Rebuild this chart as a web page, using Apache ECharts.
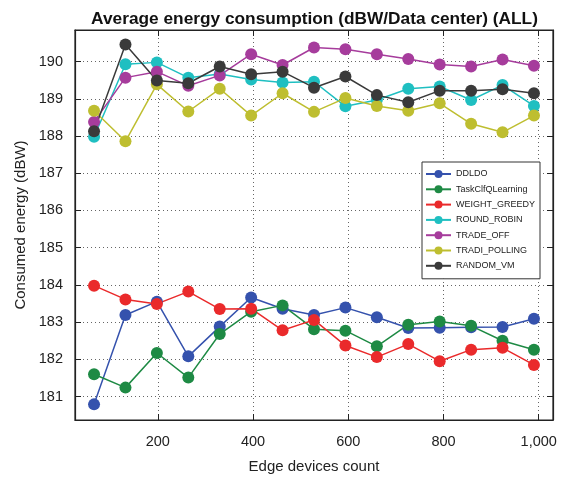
<!DOCTYPE html>
<html>
<head>
<meta charset="utf-8">
<script src="https://cdn.jsdelivr.net/npm/echarts@6/dist/echarts.min.js"></script>
<style>html,body{margin:0;padding:0;background:#fff;}#c{width:573px;height:479px;}</style>
</head>
<body>
<div id="c"></div>
<script>
const edgeCounts = [66,132,198,264,330,396,462,528,594,660,726,792,858,924,990];
const xTicks = [200,400,600,800,1000];
const yTicks = [181,182,183,184,185,186,187,188,189,190];
const seriesNames = ['DDLDO','TaskClfQLearning','WEIGHT_GREEDY','ROUND_ROBIN','TRADE_OFF','TRADI_POLLING','RANDOM_VM'];
const ddldo = [180.79,183.19,183.55,182.08,182.88,183.66,183.36,183.19,183.39,183.13,182.84,182.85,182.86,182.87,183.09];
const taskClfQLearning = [181.60,181.24,182.17,181.51,182.68,183.28,183.45,182.81,182.77,182.35,182.93,183.02,182.90,182.50,182.26];
const weightGreedy = [183.98,183.61,183.49,183.82,183.35,183.36,182.78,183.06,182.37,182.06,182.41,181.95,182.26,182.31,181.85];
const roundRobin = [187.98,189.93,189.98,189.57,189.67,189.52,189.44,189.46,188.80,188.97,189.27,189.33,188.97,189.37,188.81];
const tradeOff = [188.38,189.57,189.73,189.35,189.63,190.20,189.91,190.38,190.33,190.20,190.07,189.92,189.87,190.06,189.89];
const tradiPolling = [188.68,187.86,189.39,188.66,189.27,188.55,189.15,188.65,189.02,188.81,188.68,188.88,188.33,188.10,188.55];
const randomVm = [188.13,190.46,189.49,189.42,189.87,189.66,189.73,189.30,189.60,189.10,188.91,189.22,189.22,189.26,189.15];

const allValues = [ddldo, taskClfQLearning, weightGreedy, roundRobin, tradeOff, tradiPolling, randomVm];
const colors = ['#3552AD','#1E8A44','#EA2A2B','#1FBFC1','#A63C9C','#BEBE30','#3A3A3A'];
const FONT = "'Liberation Sans', Arial, Helvetica, sans-serif";

const chart = echarts.init(document.getElementById('c'), null, {renderer:'canvas'});

const fmt = v => v >= 1000 ? String(v).replace(/\B(?=(\d{3})+(?!\d))/g, ',') : String(v);

const series = seriesNames.map((name, i) => ({
  name: name,
  type: 'line',
  xAxisIndex: 0, yAxisIndex: 0,
  data: edgeCounts.map((x, j) => [x, allValues[i][j]]),
  symbol: 'circle',
  symbolSize: 12,
  showSymbol: true,
  lineStyle: {color: colors[i], width: 1.5},
  itemStyle: {color: colors[i]},
  emphasis: {disabled: true},
  animation: false
}));

const xMin = 26, xMax = 1030, yMin = 180.37, yMax = 190.85;

chart.setOption({
  animation: false,
  backgroundColor: '#fff',
  title: {
    text: 'Average energy consumption (dBW/Data center) (ALL)',
    left: 309.5, top: 6, textAlign: 'center',
    textStyle: {fontFamily: FONT, fontSize: 17.3, fontWeight: 'bold', color: '#111'}
  },
  grid: {left: 75, right: 20, top: 30, bottom: 56, show: true, borderColor: '#222', borderWidth: 1.2, backgroundColor: 'transparent'},
  legend: {
    orient: 'vertical',
    left: 422, top: 162,
    data: seriesNames,
    itemWidth: 25, itemHeight: 10, itemGap: 5.3,
    padding: [7, 5, 8, 3],
    borderColor: '#333', borderWidth: 1,
    backgroundColor: '#fff',
    textStyle: {fontFamily: FONT, fontSize: 9, color: '#222', lineHeight: 10},
    selectedMode: false
  },
  xAxis: [{
    type: 'value', min: xMin, max: xMax, position: 'bottom',
    name: 'Edge devices count', nameLocation: 'middle', nameGap: 39,
    nameTextStyle: {fontFamily: FONT, fontSize: 15, color: '#222'},
    axisLine: {show: true, onZero: false, lineStyle: {color: '#222', width: 1.2}},
    axisTick: {show: true, inside: true, length: 6, customValues: xTicks, lineStyle: {color: '#222'}},
    axisLabel: {customValues: xTicks, formatter: fmt, margin: 14, fontFamily: FONT, fontSize: 14.5, color: '#222'},
    splitLine: {show: true, lineStyle: {color: '#666', type: [1, 3], width: 1}}
  }, {
    type: 'value', min: xMin, max: xMax, position: 'top',
    axisLine: {show: true, onZero: false, lineStyle: {color: '#222', width: 1.2}},
    axisTick: {show: true, inside: true, length: 6, customValues: xTicks, lineStyle: {color: '#222'}},
    axisLabel: {show: false},
    splitLine: {show: false}
  }],
  yAxis: [{
    type: 'value', min: yMin, max: yMax, position: 'left',
    name: 'Consumed energy (dBW)', nameLocation: 'middle', nameGap: 46,
    nameTextStyle: {fontFamily: FONT, fontSize: 15, color: '#222'},
    axisLine: {show: true, onZero: false, lineStyle: {color: '#222', width: 1.2}},
    axisTick: {show: true, inside: true, length: 6, customValues: yTicks, lineStyle: {color: '#222'}},
    axisLabel: {customValues: yTicks, margin: 12, fontFamily: FONT, fontSize: 14.5, color: '#222'},
    splitLine: {show: true, lineStyle: {color: '#666', type: [1, 3], width: 1}}
  }, {
    type: 'value', min: yMin, max: yMax, position: 'right',
    axisLine: {show: true, onZero: false, lineStyle: {color: '#222', width: 1.2}},
    axisTick: {show: true, inside: true, length: 6, customValues: yTicks, lineStyle: {color: '#222'}},
    axisLabel: {show: false},
    splitLine: {show: false}
  }],
  series: series
});
</script>
</body>
</html>
